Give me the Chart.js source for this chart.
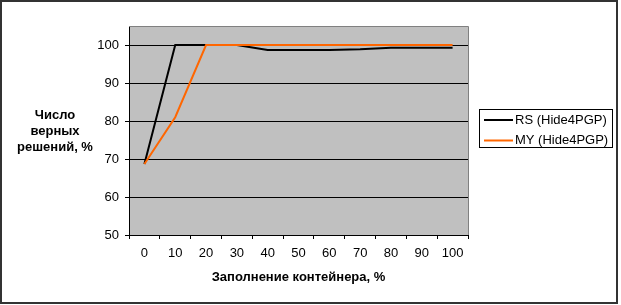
<!DOCTYPE html>
<html><head><meta charset="utf-8">
<script src="https://cdn.jsdelivr.net/npm/chart.js@4.4.1/dist/chart.umd.min.js"></script>
<style>html,body{margin:0;padding:0;background:#fff}#wrap{width:621px;height:305px;position:relative}</style>
</head><body><div id="wrap"><canvas id="c" width="621" height="305"></canvas></div>
<script>
const categories = ['0','10','20','30','40','50','60','70','80','90','100'];
const rsValues = [68.7, 100, 100, 100, 98.7, 98.7, 98.7, 98.9, 99.3, 99.3, 99.3];
const myValues = [68.7, 81, 100, 100, 100, 100, 100, 100, 100, 100, 100];
const seriesNames = ['RS (Hide4PGP)', 'MY (Hide4PGP)'];
const xTitle = 'Заполнение контейнера, %';
const yTitleLines = ['Число', 'верных', 'решений, %'];
const FONT = '"Liberation Sans", Arial, sans-serif';

const decor = {
  id: 'decor',
  beforeDraw(chart) {
    const {ctx, chartArea: a} = chart;
    ctx.save();
    ctx.fillStyle = '#fff';
    ctx.fillRect(0, 0, chart.width, chart.height);
    ctx.fillStyle = '#C0C0C0';
    ctx.fillRect(a.left, a.top, a.right - a.left, a.bottom - a.top);
    ctx.restore();
  },
  afterDraw(chart) {
    const {ctx, chartArea: a} = chart;
    ctx.save();
    ctx.strokeStyle = '#808080';
    ctx.lineWidth = 1;
    ctx.beginPath();
    ctx.moveTo(a.left, a.top + 0.5);
    ctx.lineTo(a.right + 0.5, a.top + 0.5);
    ctx.lineTo(a.right + 0.5, a.bottom);
    ctx.stroke();
    ctx.strokeStyle = '#333';
    ctx.lineWidth = 2;
    ctx.strokeRect(1, 1, 616, 302);
    ctx.fillStyle = '#000';
    ctx.font = 'bold 13px ' + FONT;
    ctx.textAlign = 'center';
    ctx.textBaseline = 'alphabetic';
    yTitleLines.forEach((t, i) => ctx.fillText(t, 55, 119 + i * 16));
    ctx.strokeStyle = '#000';
    ctx.lineWidth = 1;
    ctx.strokeRect(479.5, 109.5, 133, 38);
    ctx.font = '13px ' + FONT;
    ctx.textAlign = 'left';
    ctx.textBaseline = 'middle';
    chart.data.datasets.forEach((ds, i) => {
      const y = 120 + i * 20.5;
      ctx.strokeStyle = ds.borderColor;
      ctx.lineWidth = 2;
      ctx.beginPath();
      ctx.moveTo(484, y);
      ctx.lineTo(513, y);
      ctx.stroke();
      ctx.fillStyle = '#000';
      ctx.fillText(ds.label, 515, y);
    });
    ctx.restore();
  }
};

new Chart(document.getElementById('c'), {
  type: 'line',
  data: {
    labels: categories,
    datasets: [
      {label: seriesNames[0], data: rsValues, borderColor: '#000000', borderWidth: 2, pointRadius: 0, tension: 0, order: 2},
      {label: seriesNames[1], data: myValues, borderColor: '#FF6600', borderWidth: 2, pointRadius: 0, tension: 0, order: 1}
    ]
  },
  options: {
    responsive: false,
    animation: false,
    devicePixelRatio: 1,
    layout: {padding: {left: 0, top: 26, right: 153, bottom: 0}},
    plugins: {legend: {display: false}, tooltip: {enabled: false}, title: {display: false}},
    scales: {
      x: {
        type: 'category',
        offset: true,
        afterFit(s) { s.height = 70; },
        grid: {offset: true, drawOnChartArea: false, drawTicks: true, tickLength: 4, color: '#000', lineWidth: 1},
        border: {display: true, color: '#000', width: 1},
        ticks: {color: '#000', font: {family: FONT, size: 13}, padding: 7, maxRotation: 0, autoSkip: false},
        title: {display: true, text: xTitle, color: '#000', font: {family: FONT, size: 13, weight: 'bold'}, padding: {top: 0, bottom: 20}}
      },
      y: {
        min: 50, max: 105,
        afterFit(s) { s.width = 129; },
        afterBuildTicks(s) { s.ticks = s.ticks.filter(t => t.value <= 100); },
        ticks: {stepSize: 10, color: '#000', font: {family: FONT, size: 13}, padding: 6},
        grid: {color: '#000', lineWidth: 1, tickLength: 4, drawTicks: true},
        border: {display: true, color: '#000', width: 1}
      }
    }
  },
  plugins: [decor]
});
</script></body></html>
